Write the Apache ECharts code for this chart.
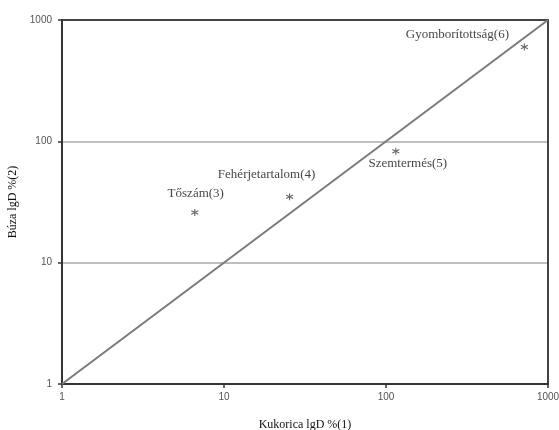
<!DOCTYPE html>
<html><head><meta charset="utf-8">
<script src="https://cdn.jsdelivr.net/npm/echarts@6/dist/echarts.min.js"></script>
<style>html,body{margin:0;padding:0;background:#fff}#c{width:559px;height:430px}</style>
</head><body><div id="c"></div>
<script>
var names = ['Tőszám(3)', 'Fehérjetartalom(4)', 'Szemtermés(5)', 'Gyomborítottság(6)'];
var kukorica = [6.6, 25.4, 115, 715];
var buza = [25.9, 35, 83, 600];
var diagX = [1, 1000];
var diagY = [1, 1000];
var tickLabels = ['1', '10', '100', '1000'];

var labelOffsets = [[1, -19], [-23, -22], [12, 12], [-67, -12]];

function tickFmt(v) {
  var i = Math.round(Math.log(v) / Math.LN10);
  return tickLabels[i] !== undefined ? tickLabels[i] : '';
}

var chart = echarts.init(document.getElementById('c'));
var pts = names.map(function (n, i) {
  return {
    value: [kukorica[i], buza[i]],
    name: n,
    label: { offset: labelOffsets[i] }
  };
});
var serif = '"Liberation Serif", "Times New Roman", serif';
var axisLabelStyle = { color: '#555', fontSize: 10, fontFamily: '"Liberation Sans", Arial, sans-serif', formatter: tickFmt };
chart.setOption({
  animation: false,
  grid: { left: 62, right: 11, top: 20, bottom: 46, containLabel: false, outerBoundsMode: 'none' },
  xAxis: [{
    type: 'log', min: 1, max: 1000, logBase: 10,
    name: 'Kukorica lgD %(1)', nameLocation: 'middle', nameGap: 35,
    nameTextStyle: { fontFamily: serif, fontSize: 12, color: '#111' },
    axisLine: { lineStyle: { color: '#333', width: 2 } },
    axisTick: { show: true, length: 4, lineStyle: { color: '#333', width: 1.5 } },
    axisLabel: Object.assign({ margin: 8 }, axisLabelStyle),
    splitLine: { show: false }, minorTick: { show: false }
  }, {
    type: 'log', min: 1, max: 1000, position: 'top',
    axisLine: { lineStyle: { color: '#444', width: 2 } },
    axisTick: { show: false }, axisLabel: { show: false }, splitLine: { show: false }
  }],
  yAxis: [{
    type: 'log', min: 1, max: 1000, logBase: 10,
    name: 'Búza lgD %(2)', nameLocation: 'middle', nameGap: 40,
    nameTextStyle: { fontFamily: serif, fontSize: 12, color: '#111' },
    axisLine: { lineStyle: { color: '#333', width: 2 } },
    axisTick: { show: true, length: 4, lineStyle: { color: '#333', width: 1.5 } },
    axisLabel: Object.assign({ margin: 10 }, axisLabelStyle),
    splitLine: { show: true, lineStyle: { color: '#aaa', width: 1.5 } }
  }, {
    type: 'log', min: 1, max: 1000, position: 'right',
    axisLine: { show: true, lineStyle: { color: '#444', width: 2 } },
    axisTick: { show: false }, axisLabel: { show: false }, splitLine: { show: false }
  }],
  series: [{
    type: 'line',
    data: diagX.map(function (x, i) { return [x, diagY[i]]; }),
    symbol: 'none',
    lineStyle: { color: '#7a7a7a', width: 2 },
    z: 3
  }, {
    type: 'scatter',
    data: pts,
    symbol: 'path://M0,-10 L0,10 M-8.66,-5 L8.66,5 M-8.66,5 L8.66,-5',
    symbolSize: 7,
    itemStyle: { color: 'none', borderColor: '#444', borderWidth: 1.1 },
    label: {
      show: true, formatter: '{b}', position: 'inside',
      fontFamily: serif, fontSize: 13, color: '#111'
    },
    z: 4
  }]
});
</script></body></html>
